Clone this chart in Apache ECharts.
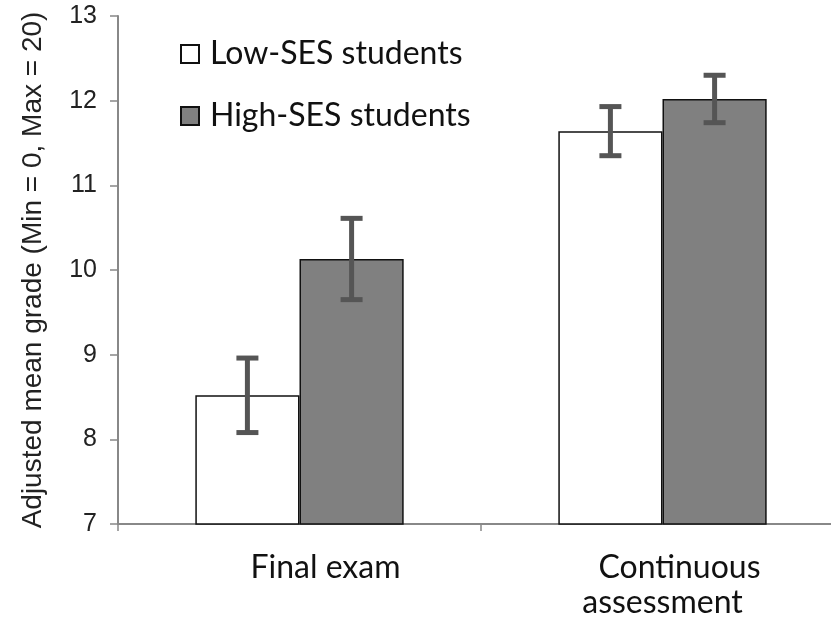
<!DOCTYPE html>
<html>
<head>
<meta charset="utf-8">
<script src="https://cdn.jsdelivr.net/npm/echarts@6/dist/echarts.min.js"></script>
<style>html,body{margin:0;padding:0;background:#fff}#c{width:831px;height:617px}</style>
</head>
<body>
<div id="c"></div>
<script>
const categories = ['Final exam', 'Continuous\nassessment'];
const seriesNames = ['Low-SES students', 'High-SES students'];
const lowSES = [8.52, 11.64];
const highSES = [10.13, 12.02];
const lowSESErr = [0.44, 0.29];
const highSESErr = [0.48, 0.28];
const yTicks = [7, 8, 9, 10, 11, 12, 13];

const BAR_FRAC = 0.287;

function errData(vals, errs) {
  return vals.map((v, i) => [i, v - errs[i], v + errs[i]]);
}
function errSeries(vals, errs, side) {
  return {
    type: 'custom',
    z: 10,
    silent: true,
    data: errData(vals, errs),
    encode: { x: 0, y: [1, 2] },
    renderItem: function (params, api) {
      const x = api.value(0);
      const lo = api.coord([x, api.value(1)]);
      const hi = api.coord([x, api.value(2)]);
      const band = api.size([1, 0])[0];
      const cx = lo[0] + side * band * BAR_FRAC / 2;
      const cap = 11;
      const st = { stroke: '#555555', lineWidth: 5 };
      return {
        type: 'group',
        children: [
          { type: 'line', shape: { x1: cx, y1: lo[1], x2: cx, y2: hi[1] }, style: st },
          { type: 'line', shape: { x1: cx - cap, y1: lo[1], x2: cx + cap, y2: lo[1] }, style: st },
          { type: 'line', shape: { x1: cx - cap, y1: hi[1], x2: cx + cap, y2: hi[1] }, style: st }
        ]
      };
    }
  };
}

const lblBase = { fontFamily: 'Lato', fontSize: 32, color: '#111', lineHeight: 35 };

const chart = echarts.init(document.getElementById('c'), null, { renderer: 'canvas' });
chart.setOption({
  animation: false,
  backgroundColor: '#ffffff',
  grid: { left: 118, top: 16, width: 726, height: 508, containLabel: false, outerBoundsMode: 'none' },
  legend: {
    data: seriesNames,
    orient: 'vertical',
    left: 175,
    top: 31,
    itemGap: 26,
    itemWidth: 18,
    itemHeight: 18,
    icon: 'rect',
    textStyle: { fontFamily: 'Lato', fontSize: 32, lineHeight: 36, color: '#111', padding: [0, 0, 0, 6] }
  },
  xAxis: {
    type: 'category',
    data: categories,
    axisLine: { lineStyle: { color: '#888', width: 2 } },
    axisTick: { show: true, alignWithLabel: false, length: 7, lineStyle: { color: '#888', width: 1.5 } },
    axisLabel: {
      margin: 26,
      fontFamily: 'Lato', fontSize: 32, color: '#111', lineHeight: 35,
      formatter: function (value, index) {
        const lines = value.split('\n');
        if (index === 0) return '{f|' + lines[0] + '}';
        return '{c|' + lines[0] + '}\n{a|' + lines[1] + '}';
      },
      rich: {
        f: Object.assign({ padding: [0, 0, 0, 52] }, lblBase),
        c: Object.assign({ padding: [0, 0, 0, 34] }, lblBase),
        a: Object.assign({}, lblBase)
      }
    }
  },
  yAxis: {
    type: 'value',
    min: 7,
    max: 13,
    interval: 1,
    name: 'Adjusted mean grade (Min = 0, Max = 20)',
    nameLocation: 'middle',
    nameRotate: 90,
    nameGap: 71,
    nameTextStyle: { fontFamily: 'Liberation Sans', fontSize: 28, color: '#222' },
    splitLine: { show: false },
    axisLine: { show: true, lineStyle: { color: '#888', width: 2 } },
    axisTick: { show: true, length: 8, lineStyle: { color: '#888', width: 1.5 } },
    axisLabel: {
      fontFamily: 'Liberation Sans', fontSize: 25, color: '#222', margin: 21,
      formatter: v => (yTicks.indexOf(v) >= 0 ? String(v) : '')
    }
  },
  series: [
    {
      name: seriesNames[0], type: 'bar', data: lowSES,
      barWidth: (BAR_FRAC * 100) + '%', barGap: '0%',
      itemStyle: { color: '#ffffff', borderColor: '#111', borderWidth: 1.5 }
    },
    {
      name: seriesNames[1], type: 'bar', data: highSES,
      barWidth: (BAR_FRAC * 100) + '%', barGap: '0%',
      itemStyle: { color: '#808080', borderColor: '#111', borderWidth: 1.5 }
    },
    errSeries(lowSES, lowSESErr, -1),
    errSeries(highSES, highSESErr, 1)
  ]
});
</script>
</body>
</html>
